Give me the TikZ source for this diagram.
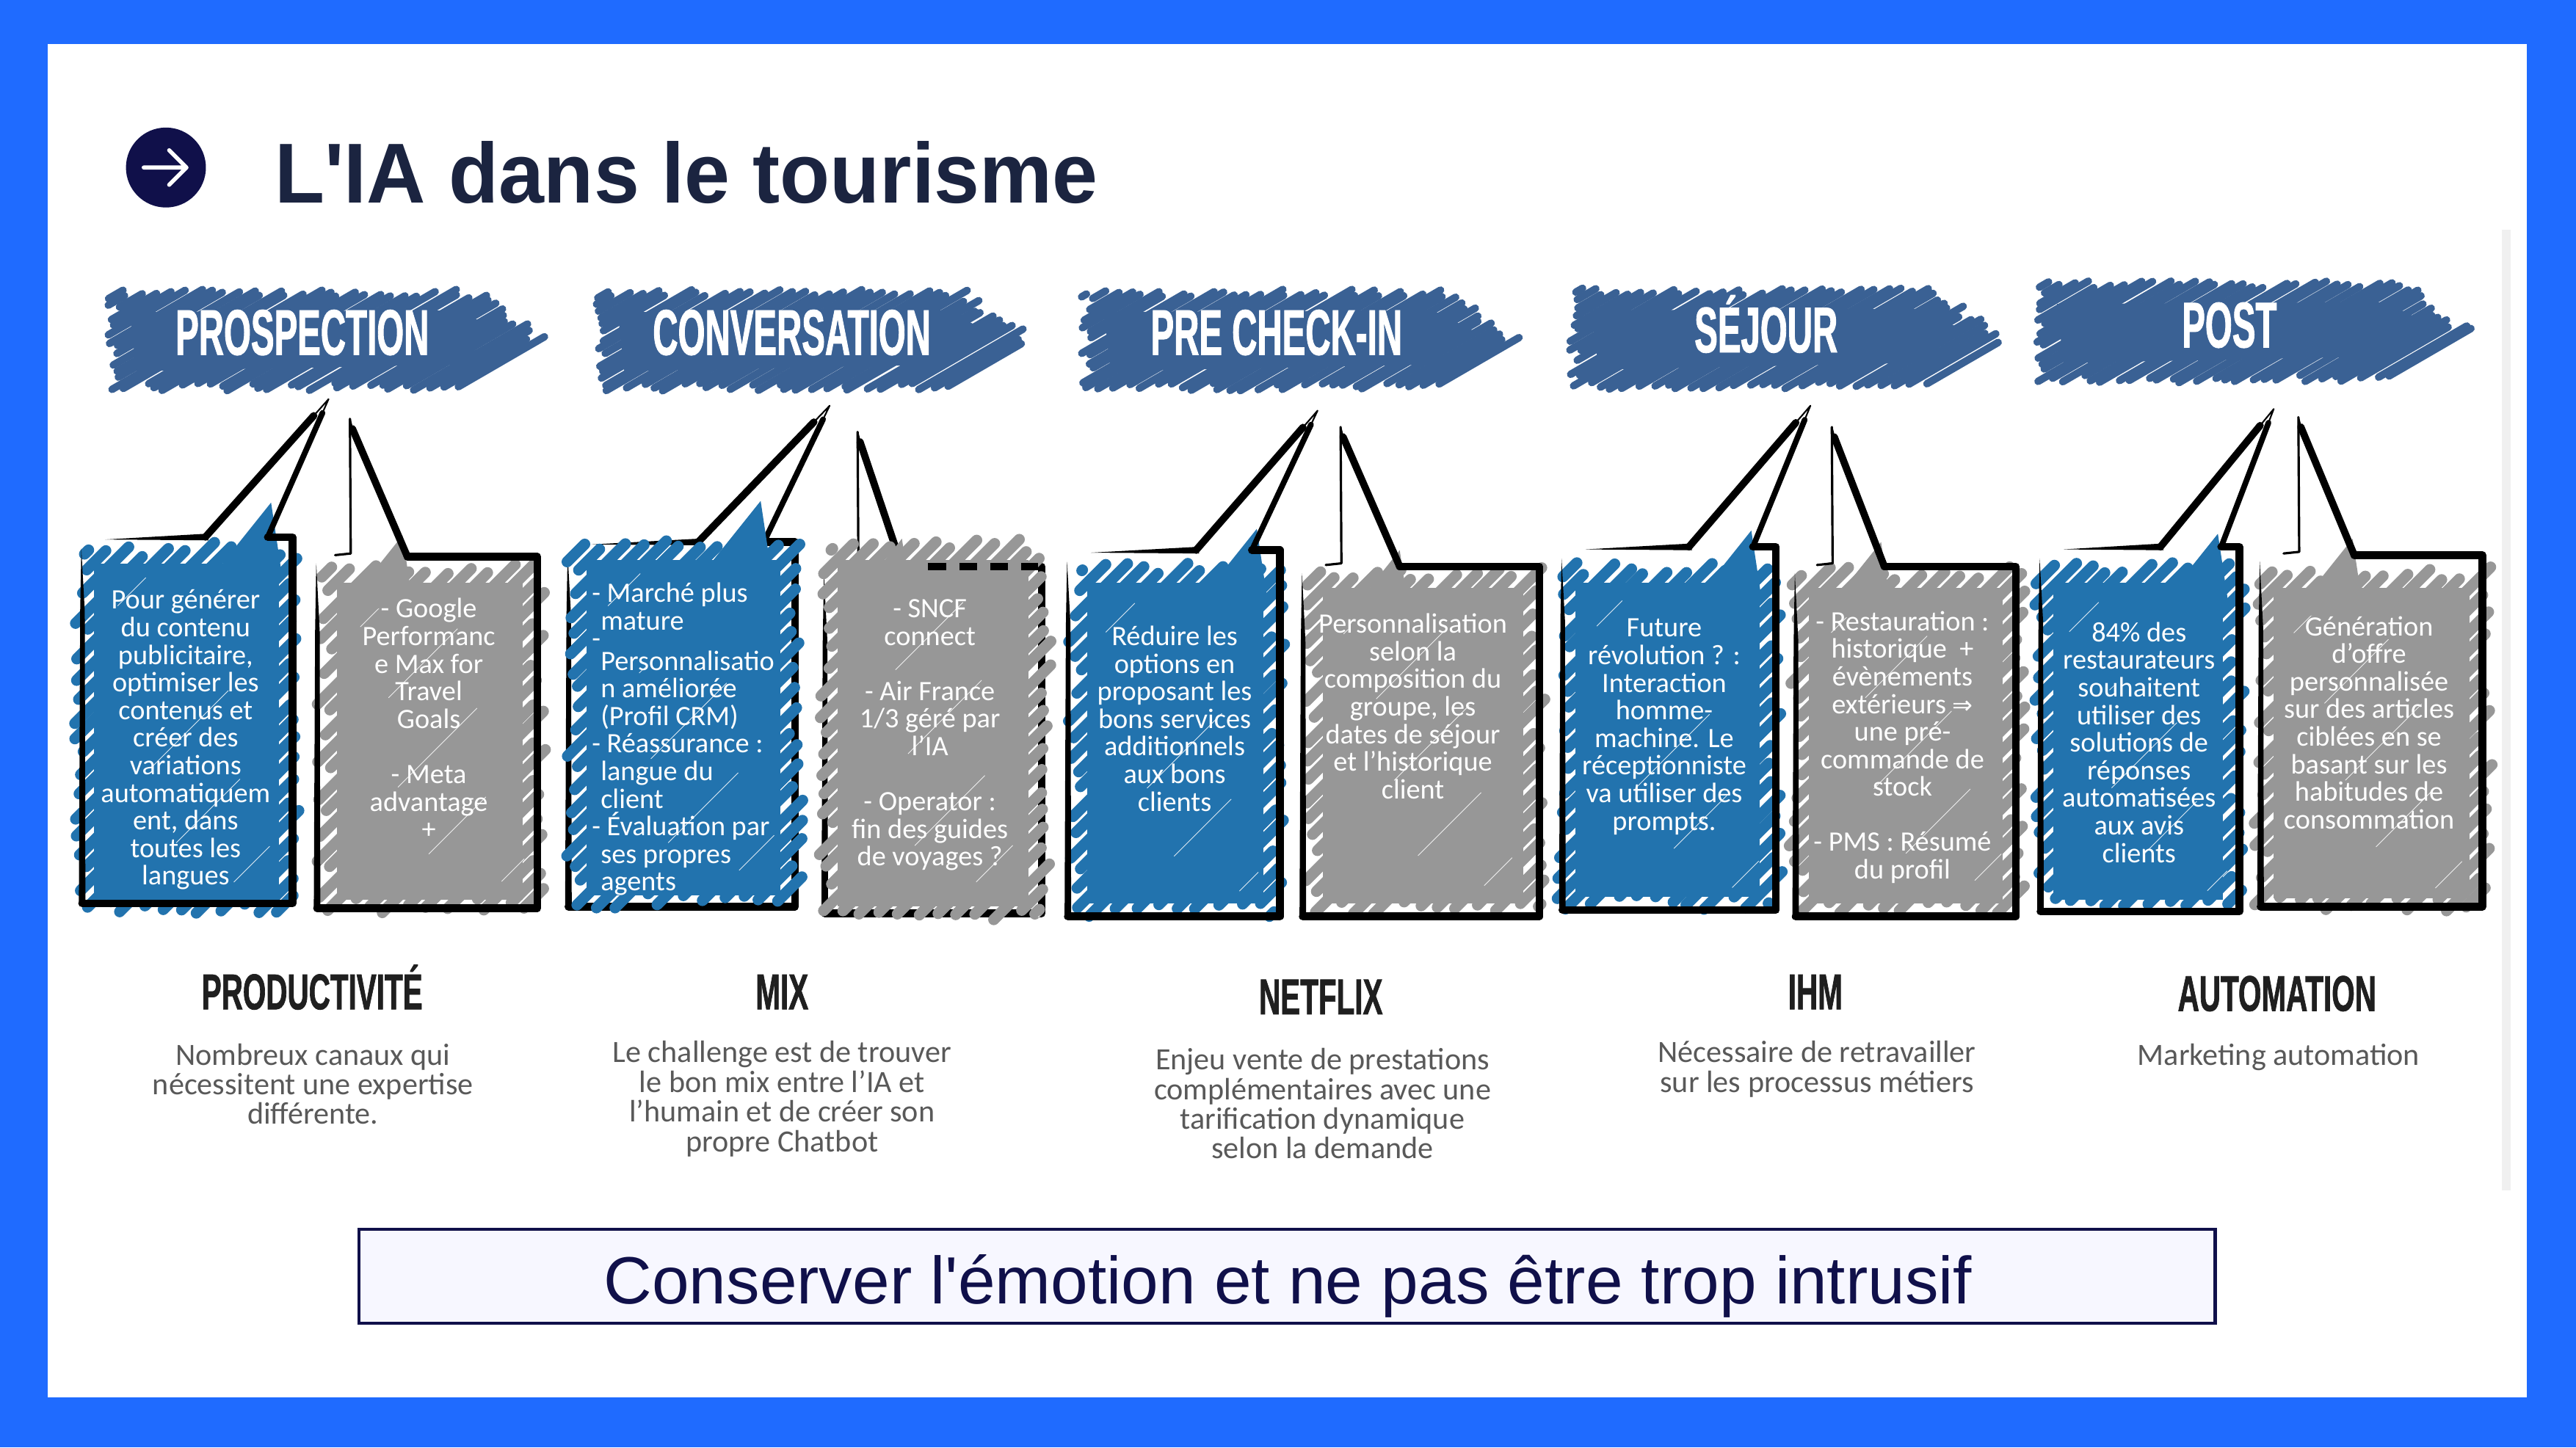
\documentclass[tikz,border=0pt]{standalone}
\usepackage{fontspec}
\usetikzlibrary{calc}
\setmainfont{Carlito}
\newfontfamily\arialfont{Liberation Sans}
\newfontfamily\titlefont[FakeStretch=0.96]{Liberation Sans}
\newfontfamily\condfont[FakeStretch=0.54,BoldFeatures={FakeBold=1}]{Liberation Sans}
\newfontfamily\headfont[FakeStretch=0.59,BoldFeatures={FakeBold=1}]{Liberation Sans}
\newfontfamily\symfont{DejaVu Sans}
\definecolor{framec}{HTML}{1F6BFF}
\definecolor{bluec}{HTML}{2273AE}
\definecolor{greyc}{HTML}{979797}
\definecolor{banc}{HTML}{3A6194}
\definecolor{navy}{HTML}{10104A}
\definecolor{titlec}{HTML}{1B2440}
\definecolor{descc}{HTML}{595959}
\tikzset{
  boxtext/.style={text=white,align=center,font=\fontsize{10.9}{10.7}\selectfont,inner sep=0pt},
  bantext/.style={text=white,anchor=base,font=\condfont\bfseries\fontsize{25}{25}\selectfont,inner sep=0pt},
  headtext/.style={text=black!88,anchor=base,font=\headfont\bfseries\fontsize{19.5}{20}\selectfont,inner sep=0pt},
  desctext/.style={text=descc,align=center,font=\fontsize{12}{11.5}\selectfont,inner sep=0pt},
  ink/.style={draw=black,line cap=round,line join=round}
}
% scribbled rectangle: L T R B colour
\newcommand{\scribfill}[5]{%
\begin{scope}[shift={(#1,#2)}]
  \pgfmathsetmacro\ww{#3-#1}\pgfmathsetmacro\hh{#4-#2}
  \fill[#5] (12,13) rectangle (\ww-14,\hh-8);
  \pgfmathtruncatemacro\nn{(\ww+\hh)/12-1}
  \foreach \i in {1,...,\nn}{
    \pgfmathsetmacro\cc{\i*12+3*rnd}
    \pgfmathsetmacro\xa{max(0,\cc-\hh)+9*rnd}
    \pgfmathsetmacro\xb{min(\ww,\cc)-9*rnd}
    \draw[#5,line width=4.3pt,line cap=round] (\xa,\cc-\xa) -- (\xb,\cc-\xb);
    \pgfmathtruncatemacro\kk{mod(\i,5)}
    \ifnum\kk=0
      \draw[white!85!#5,line width=0.25pt] (\xa+0.35*\xb-0.35*\xa+1,\cc-\xa-0.35*\xb+0.35*\xa+3) -- (\xa+0.7*\xb-0.7*\xa+1,\cc-\xa-0.7*\xb+0.7*\xa+3);
    \fi
  }
\end{scope}}
% solid wedge under a tail: tip x, tip y, reach, colour
\newcommand{\wedgefill}[4]{\fill[#4] (#1,#2) -- (#1-#3,#2+#3*1.25) -- (#1+6,#2+40) -- cycle;}
% blue callout outline: L R T B px qx apexx apexy
\newcommand{\bluecall}[8]{%
  \fill[black] (#1-0.5,#3+7) -- (#1+1.6,#3+45) -- (#1+2,#4) -- (#1-2,#4) -- (#1-1.2,#3+45) -- cycle;
  \fill[black] (#1+14,#3+1.5) -- (#5,#3-2) -- (#5+2,#3+2) -- cycle;
  \draw[ink,line width=2.8pt] (#5,#3) -- ($(#7,#8)!0.12!(#5,#3)$);
  \draw[ink,line width=0.6pt] ($(#7,#8)!0.12!(#5,#3)$) -- (#7,#8) -- ($(#7,#8)!0.1!(#6,#3)$);
  \draw[ink,line width=2.2pt] ($(#7,#8)!0.1!(#6,#3)$) -- (#6,#3);
  \draw[ink,line width=3pt] (#6,#3) -- (#2,#3) -- (#2,#4) -- (#1,#4);
}
% grey callout outline: L R T B px apexx apexy
\newcommand{\greycall}[7]{%
  \fill[black] (#1-0.5,#3+4) -- (#1+1.6,#3+45) -- (#1+2,#4) -- (#1-2,#4) -- (#1-1.2,#3+45) -- cycle;
  \draw[ink,line width=0.9pt] (#6,#7) -- (#6+0.5,#3-2) -- (#6-9,#3-1);
  \draw[ink,line width=0.6pt] (#6,#7) -- ++(2,8);
  \draw[ink,line width=2.8pt] (#6+1.5,#7+6) -- (#5,#3);
  \draw[ink,line width=3pt] (#5,#3) -- (#2,#3) -- (#2,#4) -- (#1,#4);
}
% scribbled arrow banner: x y
\newcommand{\banner}[2]{%
\begin{scope}[shift={(#1,#2)}]
  \fill[banc] (14,14) -- (214,13) -- (240,26) -- (212,46) -- (18,50) -- cycle;
  \foreach \i in {1,...,39}{
    \pgfmathsetmacro\cc{\i*4.7+2*rnd}
    \pgfmathsetmacro\xa{max(0,(\cc-62)/0.58)+8*rnd}
    \pgfmathsetmacro\xb{min(\cc/0.58,(\cc+158.2)/1.28)-8*rnd}
    \ifdim\xb pt>\xa pt
    \draw[banc,line width=2.9pt,line cap=round] (\xa,\cc-0.58*\xa) -- (\xb,\cc-0.58*\xb);
    \fi
  }
\end{scope}}
\begin{document}
\begin{tikzpicture}[x=0.022379cm,y=-0.022379cm]
\useasboundingbox (0,0) rectangle (1568,881.2);
\fill[framec] (0,0) rectangle (1568,881.2);
\fill[white] (29,27) rectangle (1538,851);
\fill[black!6] (1523,140) rectangle (1528,725);
\pgfmathsetseed{7}
% title
\node[circle,fill=navy,minimum size=31pt,inner sep=0pt] (icon) at (101,102) {};
\draw[white,line width=1.6pt,line cap=round,line join=round] (87.5,102) -- (113,102) (103,91.5) -- (113.5,102) -- (103,112.5);
\node[anchor=west,inner sep=0pt,text=titlec,font=\titlefont\bfseries\fontsize{33}{33}\selectfont] (title) at (167,105) {L'IA dans le tourisme};
% banners
\banner{65}{176}\banner{362}{176}\banner{658}{176}\banner{955}{175}\banner{1238}{171}
\node[bantext] (b1) at (184,216) {PROSPECTION};
\node[bantext] (b2) at (482,216) {CONVERSATION};
\node[bantext] (b3) at (777,216) {PRE CHECK-IN};
\node[bantext] (b4) at (1075,214.5) {SÉJOUR};
\node[bantext] (b5) at (1357,211.5) {POST};
% column 1
\scribfill{45}{330}{184}{558}{bluec}\wedgefill{165}{306}{100}{bluec}
\bluecall{50}{178}{327}{550}{125}{163}{200}{243}
\scribfill{193}{342}{332}{556}{greyc}\wedgefill{245}{326}{40}{greyc}
\greycall{193}{327}{339}{553}{248}{213}{255}
% column 2
\bluecall{346}{484}{330}{552}{425}{465}{505}{247}
\scribfill{345}{328}{489}{553}{bluec}\wedgefill{463}{305}{100}{bluec}
\greycall{502}{634}{345}{556}{549}{522}{263}
\scribfill{498}{328}{640}{560}{greyc}\wedgefill{549}{328}{40}{greyc}
\draw[black,line width=3pt,dash pattern=on 7pt off 5pt] (565,345) -- (632,345);
% column 3
\scribfill{650}{342}{783}{558}{bluec}\wedgefill{765}{322}{100}{bluec}
\bluecall{650}{779}{335}{558}{728}{762}{802}{250}
\scribfill{793}{345}{941}{558}{greyc}\wedgefill{852}{335}{40}{greyc}
\greycall{793}{937}{345}{558}{852}{816}{260}
% column 4
\scribfill{947}{342}{1085}{554}{bluec}\wedgefill{1066}{323}{100}{bluec}
\bluecall{951}{1081}{333}{554}{1028}{1067}{1102}{247}
\scribfill{1089}{345}{1233}{558}{greyc}\wedgefill{1145}{330}{40}{greyc}
\greycall{1093}{1227}{345}{558}{1147}{1115}{260}
% column 5
\scribfill{1238}{342}{1367}{556}{bluec}\wedgefill{1350}{325}{90}{bluec}
\bluecall{1242}{1363}{333}{555}{1315}{1352}{1384}{249}
\scribfill{1372}{345}{1517}{555}{greyc}\wedgefill{1432}{328}{40}{greyc}
\greycall{1376}{1511}{338}{552}{1433}{1399}{254}
% box texts
\node[boxtext] (t1) at (113,450.5) {Pour générer\\du contenu\\publicitaire,\\optimiser les\\contenus et\\créer des\\variations\\automatiquem\\ent, dans\\toutes les\\langues};
\node[boxtext] (t2) at (261,437.5) {- Google\\Performanc\\e Max for\\Travel\\Goals\\[10.7pt]- Meta\\advantage\\+};
\node[boxtext,align=left,anchor=north west] (t3) at (360,354.5) {- Marché plus\\\hspace{3.4pt}mature\\[-3.7pt]-\\[-2.1pt]\hspace{3.4pt}Personnalisatio\\\hspace{3.4pt}n améliorée\\\hspace{3.4pt}(Profil CRM)\\- Réassurance :\\\hspace{3.4pt}langue du\\\hspace{3.4pt}client\\- Évaluation par\\\hspace{3.4pt}ses propres\\\hspace{3.4pt}agents};
\node[boxtext] (t4) at (566,447.5) {- SNCF\\connect\\[10.7pt]- Air France\\1/3 géré par\\l’IA\\[10.7pt]- Operator :\\fin des guides\\de voyages ?};
\node[boxtext] (t5) at (715,437.5) {Réduire les\\options en\\proposant les\\bons services\\additionnels\\aux bons\\clients};
\node[boxtext] (t6) at (860,430) {Personnalisation\\selon la\\composition du\\groupe, les\\dates de séjour\\et l’historique\\client};
\node[boxtext] (t7) at (1013,442.5) {Future\\révolution ? :\\Interaction\\homme-\\machine. Le\\réceptionniste\\va utiliser des\\prompts.};
\node[boxtext] (t8) at (1158,455) {- Restauration :\\historique~~+\\évènements\\extérieurs {\symfont\fontsize{9.5}{10}\selectfont ⇒}\\une pré-\\commande de\\stock\\[10.7pt]- PMS : Résumé\\du profil};
\node[boxtext] (t9) at (1302,452) {84\% des\\restaurateurs\\souhaitent\\utiliser des\\solutions de\\réponses\\automatisées\\aux avis\\clients};
\node[boxtext] (t10) at (1442,440) {Génération\\d’offre\\personnalisée\\sur des articles\\ciblées en se\\basant sur les\\habitudes de\\consommation};
% headings
\node[headtext] (h1) at (190,614.5) {PRODUCTIVITÉ};
\node[headtext] (h2) at (476,614.5) {MIX};
\node[headtext] (h3) at (804,617.5) {NETFLIX};
\node[headtext] (h4) at (1105,614.5) {IHM};
\node[headtext] (h5) at (1386,615.5) {AUTOMATION};
% descriptions
\node[desctext] (d1) at (190.5,660) {Nombreux canaux qui\\nécessitent une expertise\\différente.};
\node[desctext] (d2) at (476,669) {Le challenge est de trouver\\le bon mix entre l’IA et\\l’humain et de créer son\\propre Chatbot};
\node[desctext] (d3) at (805,672) {Enjeu vente de prestations\\complémentaires avec une\\tarification dynamique\\selon la demande};
\node[desctext] (d4) at (1106,651) {Nécessaire de retravailler\\sur les processus métiers};
\node[desctext] (d5) at (1387,643.5) {Marketing automation};
% bottom banner
\node[draw=navy,line width=1.2pt,fill=blue!3!white,minimum width=719.5pt,minimum height=36.5pt,inner sep=0pt] (foot) at (783.5,777) {};
\node[inner sep=0pt,text=navy,font=\arialfont\fontsize{25.9}{28}\selectfont] (foottext) at (784,783) {Conserver l'émotion et ne pas être trop intrusif};
\end{tikzpicture}
\end{document}
